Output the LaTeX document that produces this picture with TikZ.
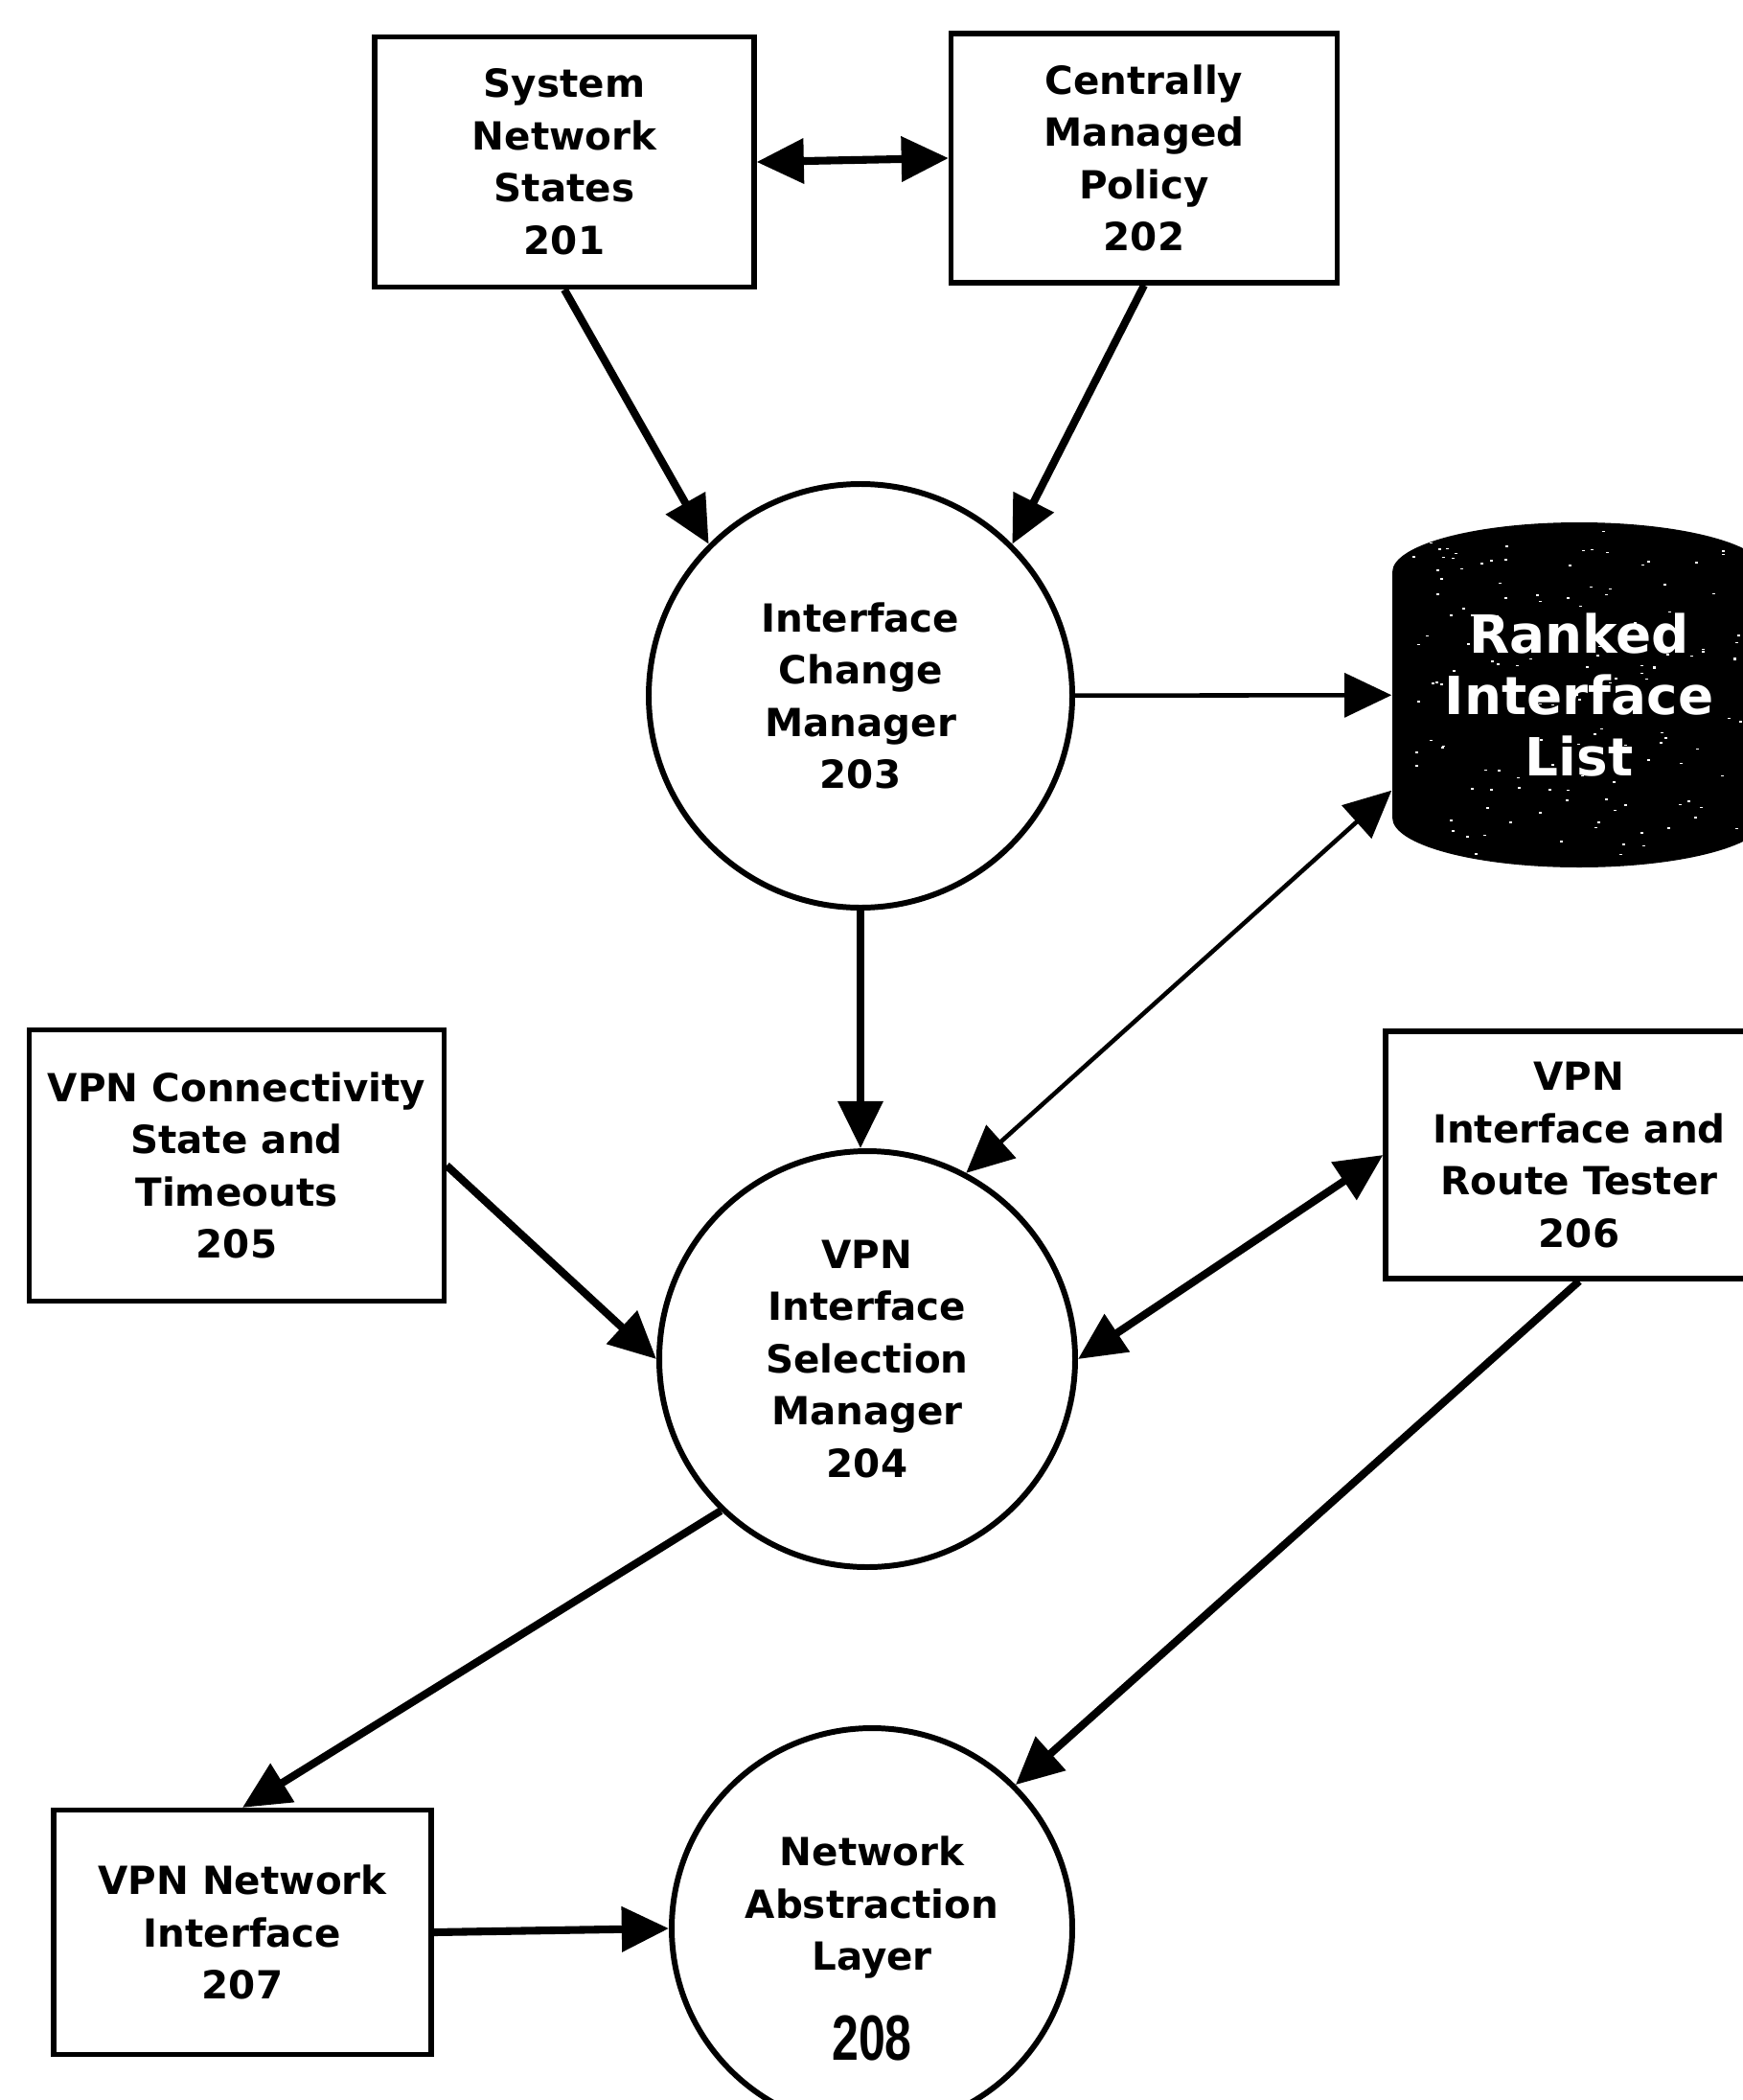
\documentclass[tikz,border=0pt]{standalone}
\usepackage{fontspec}
\setmainfont{DejaVu Sans}
\newfontfamily\numfont{Liberation Sans}
\usetikzlibrary{arrows.meta}

\begin{document}
\begin{tikzpicture}[>={Triangle[length=14pt,width=13pt]},
box/.style={draw,line width=1.5pt,align=center,font=\fontsize{11.5}{15.5}\selectfont\bfseries},
hub/.style={circle,draw,line width=1.7pt,align=center,inner sep=0pt,font=\fontsize{11.5}{15.5}\selectfont\bfseries},
arr/.style={line width=2.3pt,->},thinarr/.style={line width=1.3pt,->}]
\useasboundingbox (0,0) rectangle (18.19,-21.91);
\node[box,minimum width=3.96cm,minimum height=2.61cm] (b201) at (5.89,-1.69) {System\\Network\\States\\201};
\node[box,minimum width=4.03cm,minimum height=2.6cm] (b202) at (11.94,-1.65) {Centrally\\Managed\\Policy\\202};
\node[hub,minimum size=4.42cm] (c203) at (8.98,-7.26) {Interface\\Change\\Manager\\203};
\coordinate (rlc) at (16.48,-7.25);
\fill (rlc) ++(-1.95,1.28) arc[start angle=180,end angle=0,x radius=1.95,y radius=0.52]
 -- ++(0,-2.56) arc[start angle=0,end angle=-180,x radius=1.95,y radius=0.52] -- cycle;
\pgfmathsetseed{7}
\foreach \i in {1,...,150}\fill[white] (rlc) ++({1.8*rand},{1.7*rand}) rectangle ++(0.03,0.015);
\node[minimum width=3.9cm,minimum height=3.6cm,align=center,text=white,font=\fontsize{15.6}{18.2}\selectfont\bfseries] (rl) at (rlc) {Ranked\\Interface\\List};
\node[hub,minimum size=4.34cm] (c204) at (9.05,-14.18) {VPN\\Interface\\Selection\\Manager\\204};
\node[box,minimum width=4.33cm,minimum height=2.83cm] (b205) at (2.47,-12.16) {VPN Connectivity\\State and\\Timeouts\\205};
\node[box,minimum width=4.04cm,minimum height=2.58cm] (b206) at (16.48,-12.05) {VPN\\Interface and\\Route Tester\\206};
\node[box,minimum width=3.94cm,minimum height=2.55cm] (b207) at (2.53,-20.16) {VPN Network\\Interface\\207};
\node[hub,minimum size=4.18cm] (c208) at (9.10,-20.12) {};
\node[align=center,font=\fontsize{11.5}{15.5}\selectfont\bfseries] (t208) at (9.10,-20.33) {Network\\Abstraction\\Layer\\[10pt]{\numfont\fontsize{19}{19}\selectfont\scalebox{0.75}[1]{208}}};
\draw[arr,<->] (b201.east) -- (b202.west);
\draw[arr] (b201.south) -- (c203.135);
\draw[arr] (b202.south) -- (c203.45);
\draw[thinarr] (c203) -- (rl);
\draw[thinarr,<->] (rl.207) -- (c204.62);
\draw[arr] (c203.south) -- (c203.south |- c204.north);
\draw[arr] (b205.east) -- (c204.west);
\draw[arr,<->] (b206.west) -- (c204.east);
\draw[arr] (b206.south) -- (c208.45);
\draw[arr] (c204.226) -- (b207.north);
\draw[arr] (b207.east) -- (c208.west);
\end{tikzpicture}
\end{document}
